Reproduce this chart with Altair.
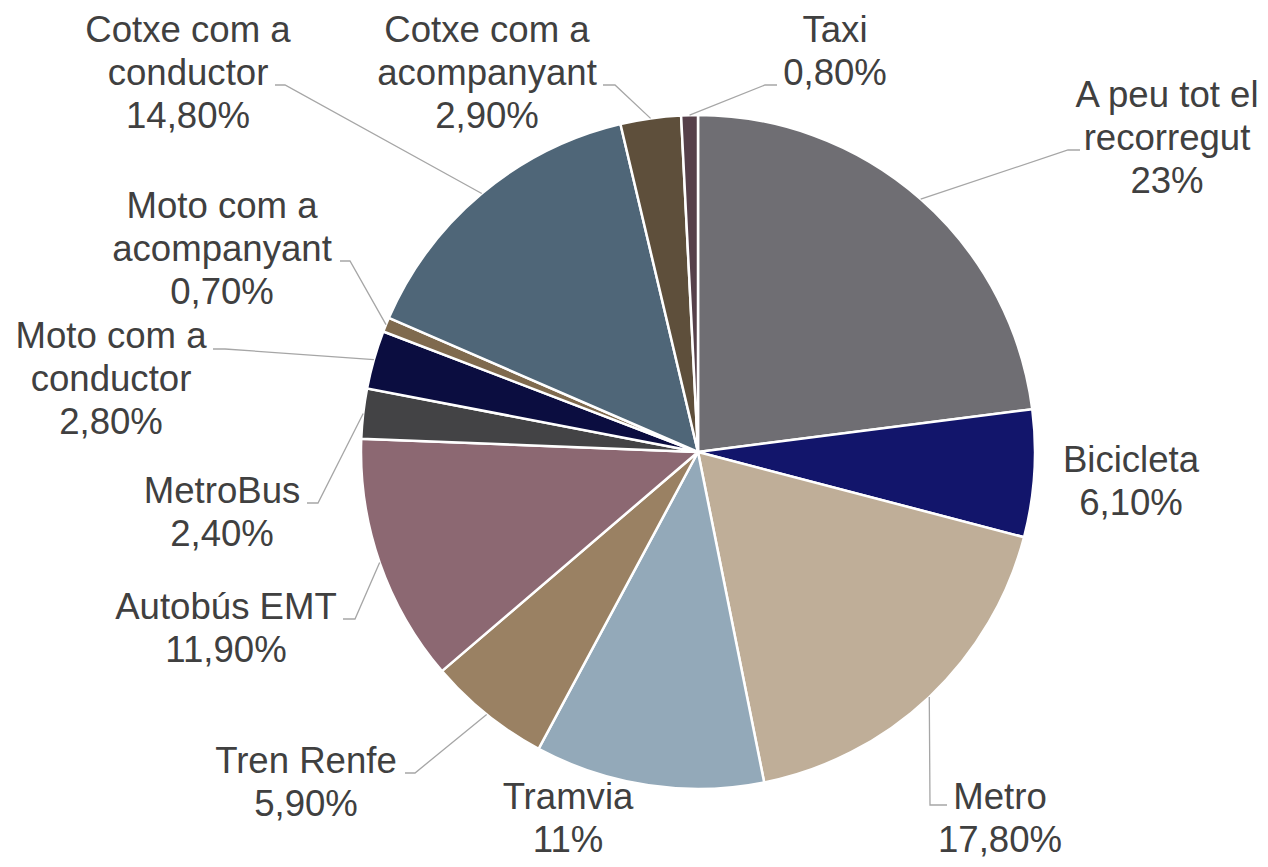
import math
import altair as alt
import numpy as np
import pandas as pd

# ---------------- data ----------------
categories = [
    "A peu tot el recorregut", "Bicicleta", "Metro", "Tramvia", "Tren Renfe",
    "Autobús EMT", "MetroBus", "Moto com a conductor", "Moto com a acompanyant",
    "Cotxe com a conductor", "Cotxe com a acompanyant", "Taxi",
]
values = [23, 6.1, 17.8, 11, 5.9, 11.9, 2.4, 2.8, 0.7, 14.8, 2.9, 0.8]
name_lines = [
    ["A peu tot el", "recorregut"], ["Bicicleta"], ["Metro"], ["Tramvia"],
    ["Tren Renfe"], ["Autobús EMT"], ["MetroBus"], ["Moto com a", "conductor"],
    ["Moto com a", "acompanyant"], ["Cotxe com a", "conductor"],
    ["Cotxe com a", "acompanyant"], ["Taxi"],
]
colors = [
    "#6f6e73", "#12156b", "#bfae98", "#93a9b9", "#9a8163", "#8c6872",
    "#434345", "#0b0d40", "#7f6a4e", "#4f6678", "#5e4f3b", "#56404a",
]

# ---------------- layout (page pixel coordinates) ----------------
W, H, MARGIN = 1252, 851, 8
CX, CY, R = 698, 452, 337
label_anchor = [  # centre x, first baseline y
    (1167, 107), (1131, 472), (1000, 809), (568, 809), (306, 773), (226, 619),
    (222, 503), (111, 348), (222, 218), (188, 42), (487, 42), (835, 42),
]
leader_elbow_end = [
    ((1068, 150), (1080, 150)), None, ((930, 805), (947, 805)), None,
    ((415, 773), (405, 773)), ((355, 619), (343, 619)), ((318, 503), (307, 503)),
    ((225, 349), (213, 349)), ((350, 261), (340, 261)), ((285, 85), (275, 85)),
    ((615, 85), (603, 85)), ((765, 85), (777, 85)),
]


def pct(v):
    if float(v).is_integer():
        return f"{int(v)}%"
    return f"{v:.2f}%".replace(".", ",")


pie_df = pd.DataFrame({"name": categories, "value": values, "idx": range(len(values))})

total = sum(values)
cum = np.cumsum([0] + values[:-1])
mids = [(c + v / 2) / total * 2 * math.pi for c, v in zip(cum, values)]

label_rows = []
for name, lines, v, (ax, ay) in zip(categories, name_lines, values, label_anchor):
    label_rows.append({"name": name, "px": ax, "py": ay, "txt": "\n".join(lines + [pct(v)])})
label_df = pd.DataFrame(label_rows)

leader_rows = []
for name, a, le in zip(categories, mids, leader_elbow_end):
    if le is None:
        continue
    sx = CX + R * math.sin(a)
    sy = CY - R * math.cos(a)
    pts = [(sx, sy), le[0], le[1]]
    for k, (px, py) in enumerate(pts):
        leader_rows.append({"name": name, "k": k, "px": px, "py": py})
leader_df = pd.DataFrame(leader_rows)

xenc = alt.X("px:Q", scale=alt.Scale(domain=[MARGIN, MARGIN + W], range=[0, W], nice=False, zero=False), axis=None)
yenc = alt.Y("py:Q", scale=alt.Scale(domain=[MARGIN, MARGIN + H], range=[0, H], nice=False, zero=False), axis=None)

arc = alt.Chart(pie_df).mark_arc(outerRadius=R, stroke="white", strokeWidth=2.5).encode(
    theta=alt.Theta("value:Q", stack=True),
    order=alt.Order("idx:Q"),
    color=alt.Color("name:N", scale=alt.Scale(domain=categories, range=colors), legend=None),
    x=alt.value(CX - MARGIN),
    y=alt.value(CY - MARGIN),
)

leader = alt.Chart(leader_df).mark_line(color="#a6a6a6", strokeWidth=1.3).encode(
    x=xenc, y=yenc, detail="name:N", order="k:Q"
)

text = alt.Chart(label_df).mark_text(
    align="center", baseline="alphabetic", fontSize=36.6, font="Liberation Sans",
    color="#404040", lineBreak="\n", lineHeight=43,
).encode(x=xenc, y=yenc, text="txt:N")

chart = alt.layer(arc, leader, text).properties(
    width=W, height=H, padding=0, autosize=alt.AutoSizeParams(type="none"),
    background="white",
).configure_view(stroke=None)

chart.save("out.html", embed_options={"renderer": "svg", "actions": False})
